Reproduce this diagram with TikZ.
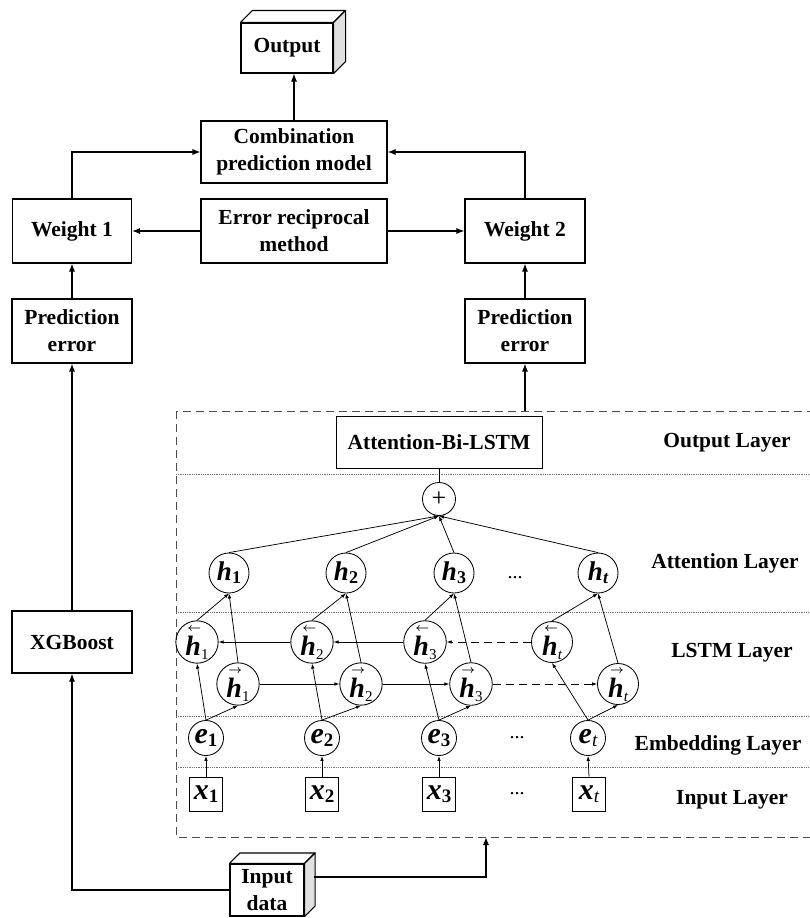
\documentclass[tikz,border=0pt]{standalone}
\usepackage{amsmath}
\usepackage{fontspec}
\setmainfont{Liberation Serif}
\usetikzlibrary{arrows.meta}
\newcommand\bfit[1]{{\bfseries\itshape #1}}
\newcommand\smallarr[1]{\hbox{\kern2pt\fontsize{12.5}{12.5}\selectfont$\boldsymbol{#1}$}}
\newcommand\attH[1]{\fontsize{27}{27}\selectfont\bfit{h}\raisebox{-3pt}{\fontsize{18}{18}\selectfont\bfseries #1}}
\newcommand\bwH[1]{\fontsize{28}{28}\selectfont$\overset{\smallarr{\leftarrow}}{\hbox{\bfit{h}}}$\raisebox{-4pt}{\fontsize{15}{15}\selectfont #1}}
\newcommand\fwH[1]{\fontsize{28}{28}\selectfont$\overset{\smallarr{\rightarrow}}{\hbox{\bfit{h}}}$\raisebox{-4pt}{\fontsize{15}{15}\selectfont #1}}
\newcommand\embE[1]{\fontsize{30}{30}\selectfont\bfit{e}\raisebox{-3pt}{\fontsize{19}{19}\selectfont\bfseries #1}}
\newcommand\inX[1]{\fontsize{30}{30}\selectfont\bfit{x}\raisebox{-3pt}{\fontsize{19}{19}\selectfont\bfseries #1}}
\tikzset{
  box/.style={draw, line width=1.1pt, font=\bfseries\fontsize{21.5}{27}\selectfont, align=center, inner sep=0pt},
  arr/.style={-{Latex[length=8pt,width=6pt]}, line width=1.1pt},
  sarr/.style={-{Latex[length=5pt,width=3.6pt]}, line width=0.75pt},
  cell/.style={draw, circle, line width=0.85pt, inner sep=0pt},
  xbox/.style={draw, line width=0.85pt, inner sep=0pt, minimum width=33pt, minimum height=34pt},
  layer/.style={font=\bfseries\fontsize{21.5}{27}\selectfont},
  sep/.style={black!55, line width=0.5pt, dash pattern=on 1pt off 0.8pt},
  frame/.style={draw=black!70, line width=1pt, dash pattern=on 8pt off 5pt},
  dsh/.style={dash pattern=on 8pt off 5pt},
  face/.style={line width=1.1pt, line join=round},
  dots/.style={font=\fontsize{20}{20}\selectfont},
}
\begin{document}
\begin{tikzpicture}[x=1pt,y=-1pt]
\useasboundingbox (0,0) rectangle (809,918);
% ---------- upper part ----------
\node[box, minimum width=92pt, minimum height=50pt] (out) at (287,48) {Output};
\draw[face, fill=white] (out.north west) -- ++(12,-12) -- ([shift={(12,-12)}]out.north east) -- (out.north east) -- cycle;
\draw[face, fill=black!12] (out.north east) -- ++(12,-12) -- ([shift={(12,-12)}]out.south east) -- (out.south east) -- cycle;

\node[box, minimum width=186pt, minimum height=62pt] (comb) at (294,152) {Combination\\prediction model};
\node[box, minimum width=186pt, minimum height=64pt] (err) at (294,231) {Error reciprocal\\method};
\node[box, minimum width=119pt, minimum height=64pt] (w1) at (72,231) {Weight 1};
\node[box, minimum width=120pt, minimum height=64pt] (w2) at (525,231) {Weight 2};
\node[box, minimum width=120pt, minimum height=64pt] (pe1) at (72,331) {Prediction\\error};
\node[box, minimum width=120pt, minimum height=64pt] (pe2) at (525,331) {Prediction\\error};
\node[box, minimum width=120pt, minimum height=62pt] (xgb) at (72,642) {XGBoost};

\node[box, minimum width=74pt, minimum height=52pt] (in) at (267,890) {Input\\data};
\draw[face, fill=white] (in.north west) -- ++(10.5,-10.5) -- ([shift={(10.5,-10.5)}]in.north east) -- (in.north east) -- cycle;
\draw[face, fill=black!12] (in.north east) -- ++(10.5,-10.5) -- ([shift={(10.5,-10.5)}]in.south east) -- (in.south east) -- cycle;

\draw[arr] (comb.north) -- (comb.north |- out.south);
\draw[arr] (w1.north) |- (comb.west);
\draw[arr] (w2.north) |- (comb.east);
\draw[arr] (err.west) -- (w1.east);
\draw[arr] (err.east) -- (w2.west);
\draw[arr] (pe1.north) -- (w1.south);
\draw[arr] (pe2.north) -- (w2.south);
\draw[arr] (xgb.north) -- (pe1.south);
\draw[arr] (in.west) -| (xgb.south);
\coordinate (inR) at (314,877);
\coordinate (fb) at (486,837);
\coordinate (ft) at (525,411);
\draw[arr] (inR) -| (fb);
\draw[arr] (ft) -- (pe2.south);

% ---------- Attention-Bi-LSTM frame ----------
\draw[frame] (176,411) rectangle (830,837);
\foreach \yy in {474,612,716,767} \draw[sep] (176,\yy) -- (809,\yy);

\node[box, line width=1pt, minimum width=206pt, minimum height=52pt] (att) at (439,442) {Attention-Bi-LSTM};
\node[cell, minimum size=33pt, font=\fontsize{26}{26}\selectfont] (plus) at (439,499) {+};
\draw[line width=0.85pt] (att.south) -- (plus.north);

% attention layer
\node[cell, minimum size=40pt] (h1) at (229,573) {\attH{1}};
\node[cell, minimum size=40pt] (h2) at (346,573) {\attH{2}};
\node[cell, minimum size=40pt] (h3) at (454,573) {\attH{3}};
\node[cell, minimum size=40pt] (ht) at (598,573) {\attH{\itshape t}};
\node[dots] (dA) at (515,578) {...};

% LSTM layer
\node[cell, minimum size=41pt] (bh1) at (197,642) {\bwH{1}};
\node[cell, minimum size=41pt] (bh2) at (312,642) {\bwH{2}};
\node[cell, minimum size=41pt] (bh3) at (425,642) {\bwH{3}};
\node[cell, minimum size=41pt] (bht) at (552,642) {\bwH{\itshape t}};
\node[cell, minimum size=41pt] (fh1) at (238,684) {\fwH{1}};
\node[cell, minimum size=41pt] (fh2) at (361,684) {\fwH{2}};
\node[cell, minimum size=41pt] (fh3) at (471,684) {\fwH{3}};
\node[cell, minimum size=41pt] (fht) at (618,684) {\fwH{\itshape t}};

% embedding layer
\node[cell, minimum size=35pt] (e1) at (206,738) {\embE{1}};
\node[cell, minimum size=35pt] (e2) at (322,738) {\embE{2}};
\node[cell, minimum size=35pt] (e3) at (439,738) {\embE{3}};
\node[cell, minimum size=35pt] (et) at (588,738) {\embE{\mdseries\itshape t}};
\node[dots] (dE) at (517,738) {...};

% input layer
\node[xbox] (x1) at (206,794) {\inX{1}};
\node[xbox] (x2) at (322,794) {\inX{2}};
\node[xbox] (x3) at (439,794) {\inX{3}};
\node[xbox] (xt) at (589,794) {\inX{\mdseries\itshape t}};
\node[dots] (dX) at (517,794) {...};

% connectors
\foreach \i in {1,2,3,t} {
  \draw[sarr] (x\i.north) -- (e\i.south);
  \draw[sarr] (e\i.north) -- (bh\i.south);
  \draw[sarr] (e\i.north) -- (fh\i.south);
  \draw[sarr] (bh\i.north) -- (h\i.south);
  \draw[sarr] (fh\i.north) -- (h\i.south);
  \draw[sarr] (h\i.north) -- (plus.south);
}
\draw[sarr] (fh1) -- (fh2);
\draw[sarr] (fh2) -- (fh3);
\draw[sarr, dsh] (fh3) -- (fht);
\draw[sarr] (bh2) -- (bh1);
\draw[sarr] (bh3) -- (bh2);
\draw[sarr, dsh] (bht) -- (bh3);

% layer labels
\node[layer] (lOut) at (727,443) {Output Layer};
\node[layer] (lAtt) at (725,563) {Attention Layer};
\node[layer] (lLstm) at (732,653) {LSTM Layer};
\node[layer] (lEmb) at (718,745) {Embedding Layer};
\node[layer] (lIn) at (732,800) {Input Layer};
\end{tikzpicture}
\end{document}
